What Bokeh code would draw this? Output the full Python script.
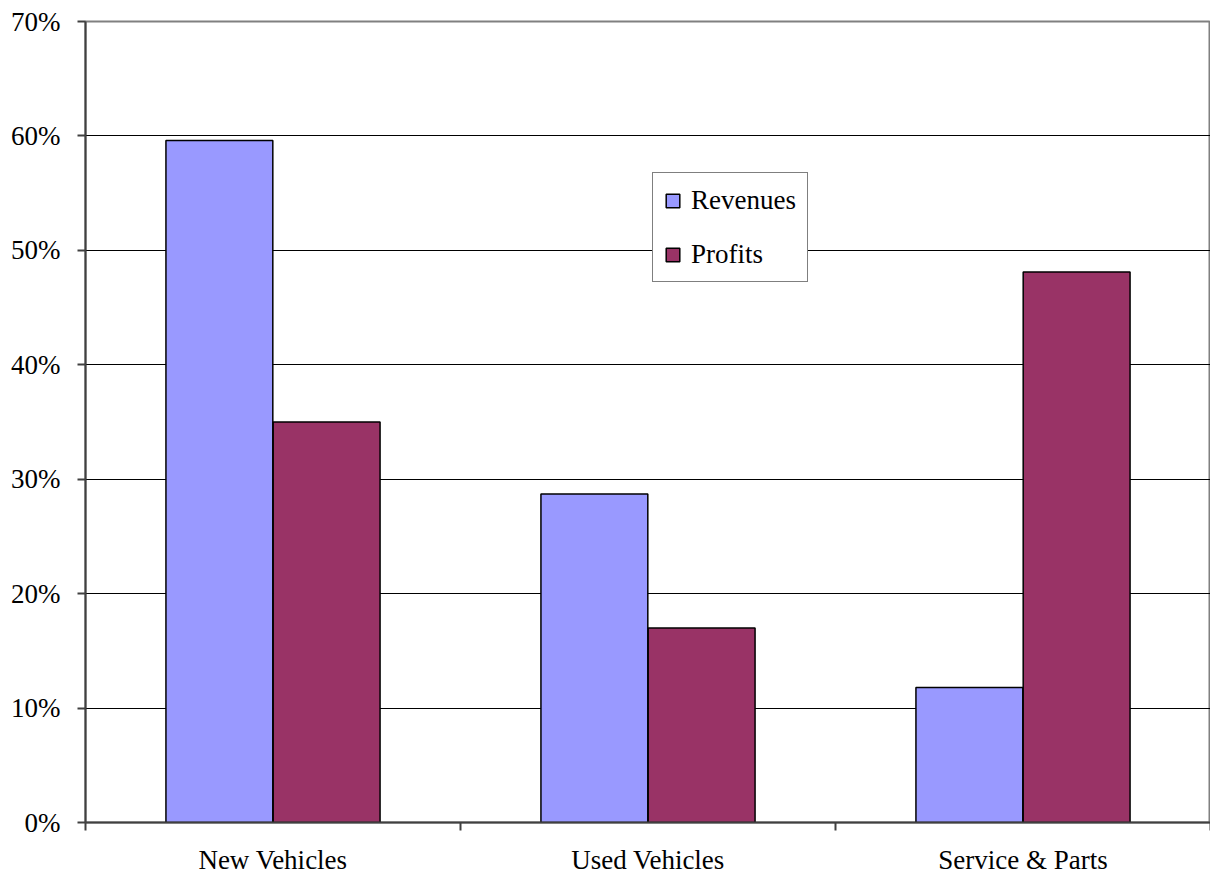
import numpy as np
from bokeh.plotting import figure
from bokeh.models import (FixedTicker, NumeralTickFormatter, Range1d, Legend, LegendItem)
from bokeh.embed import file_html
from bokeh.resources import INLINE

categories = ["New Vehicles", "Used Vehicles", "Service & Parts"]
revenues = [0.596, 0.287, 0.118]
profits = [0.350, 0.170, 0.481]
y_ticks = [0.0, 0.1, 0.2, 0.3, 0.4, 0.5, 0.6, 0.7]

FONT = "Liberation Serif"
FS = "27px"

p = figure(width=1210, height=877, output_backend="svg", toolbar_location=None,
           x_range=Range1d(0, len(categories)), y_range=Range1d(0, 0.7),
           min_border_left=85, min_border_right=0, min_border_top=21, min_border_bottom=55)
p.background_fill_color = "white"
p.border_fill_color = "white"
p.outline_line_color = "#808080"
p.outline_line_width = 2

idx = np.arange(len(categories))
bw = 0.285
off = 0.143
r1 = p.vbar(x=idx + 0.5 - off, top=revenues, width=bw, bottom=0,
            fill_color="#9999FF", line_color="black", line_width=1.5)
r2 = p.vbar(x=idx + 0.5 + off, top=profits, width=bw, bottom=0,
            fill_color="#993366", line_color="black", line_width=1.5)

# x axis: labels at centres, tick marks at category boundaries
xa = p.xaxis[0]
xa.ticker = FixedTicker(ticks=list(idx + 0.5), minor_ticks=list(range(len(categories) + 1)))
xa.major_label_overrides = {float(i + 0.5): c for i, c in enumerate(categories)}
xa.major_tick_out = 0
xa.major_tick_in = 0
xa.minor_tick_out = 8
xa.minor_tick_in = 0
xa.minor_tick_line_color = "#404040"
xa.minor_tick_line_width = 2
xa.axis_line_color = "#404040"
xa.axis_line_width = 2
xa.major_label_text_font = FONT
xa.major_label_text_font_size = FS
xa.major_label_text_color = "black"
xa.major_label_standoff = 14

ya = p.yaxis[0]
ya.ticker = FixedTicker(ticks=y_ticks)
ya.formatter = NumeralTickFormatter(format="0%")
ya.major_tick_out = 8
ya.major_tick_in = 0
ya.minor_tick_line_color = None
ya.major_tick_line_color = "#404040"
ya.major_tick_line_width = 2
ya.axis_line_color = "#404040"
ya.axis_line_width = 2
ya.major_label_text_font = FONT
ya.major_label_text_font_size = FS
ya.major_label_text_color = "black"
ya.major_label_standoff = 17

p.xgrid.grid_line_color = None
p.ygrid.ticker = FixedTicker(ticks=y_ticks[1:-1])
p.ygrid.grid_line_color = "black"
p.ygrid.grid_line_width = 1

legend = Legend(items=[LegendItem(label="Revenues", renderers=[r1]),
                       LegendItem(label="Profits", renderers=[r2])],
                location=(567, 540), margin=0, padding=11, spacing=22,
                glyph_width=17, glyph_height=17, label_height=32, label_standoff=10,
                label_text_font=FONT, label_text_font_size=FS, label_text_color="black",
                border_line_color="black", border_line_width=1,
                background_fill_color="white", background_fill_alpha=1)
p.add_layout(legend, "center")

open("out.html", "w").write(file_html(p, INLINE))
